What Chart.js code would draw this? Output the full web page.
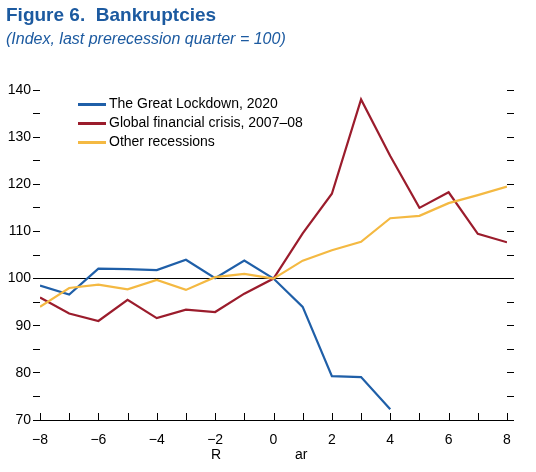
<!DOCTYPE html>
<html>
<head>
<meta charset="utf-8">
<script src="https://cdn.jsdelivr.net/npm/chart.js@4"></script>
<style>
  body { margin: 0; background: #fff; font-family: "Liberation Sans Narrow", "Liberation Sans", Arial, sans-serif; }
  #wrap { position: relative; width: 536px; height: 472px; }
  #title { position: absolute; left: 6px; top: 4px; font-size: 19px; font-weight: bold; color: #1c5aa0; }
  #sub { position: absolute; left: 6px; top: 30px; font-size: 16px; font-style: italic; color: #1c5aa0; }
  .leg { position: absolute; left: 78px; font-size: 14px; color: #000; }
  .leg i { display: inline-block; width: 28px; height: 3px; vertical-align: middle; margin-right: 3px; }
  .xl { position: absolute; top: 446px; font-size: 14px; }
  canvas { position: absolute; left: 0; top: 0; }
</style>
</head>
<body>
<div id="wrap">
  <canvas id="chart" width="536" height="472"></canvas>
  <div id="title">Figure 6.&nbsp; Bankruptcies</div>
  <div id="sub">(Index, last prerecession quarter = 100)</div>
  <div class="leg" style="top:95px"><i style="background:#1f5fa8"></i>The Great Lockdown, 2020</div>
  <div class="leg" style="top:114px"><i style="background:#9b1c2c"></i>Global financial crisis, 2007–08</div>
  <div class="leg" style="top:133px"><i style="background:#f4b942"></i>Other recessions</div>
  <div class="xl" style="left:211px">R</div>
  <div class="xl" style="left:295px">ar</div>
</div>
<script>
const quarters = [-8,-7,-6,-5,-4,-3,-2,-1,0,1,2,3,4,5,6,7,8];
const lockdown = [98.5,96.6,102.1,102,101.8,104,100.1,103.8,100,94,79.3,79.1,72.3];
const gfc = [96,92.6,91,95.5,91.6,93.4,92.9,96.8,100,109.6,118,138,126,115,118.3,109.5,107.7];
const other = [94,98,98.7,97.7,99.7,97.6,100.3,101,100,103.8,106,107.8,112.8,113.3,116,117.7,119.5];

const font = { family: '"Liberation Sans Narrow", "Liberation Sans", Arial, sans-serif', size: 14 };

function pts(arr) { return arr.map((v, i) => ({ x: quarters[i], y: v })); }

// inward x ticks drawn from the x scale
const xTicks = {
  id: 'xTicks',
  afterDraw(chart) {
    const ctx = chart.ctx, xs = chart.scales.x, b = chart.chartArea.bottom;
    ctx.save();
    ctx.strokeStyle = '#000';
    ctx.lineWidth = 1;
    ctx.beginPath();
    ctx.moveTo(chart.chartArea.left, b + 0.5);
    ctx.lineTo(chart.chartArea.right, b + 0.5);
    for (const q of quarters) {
      const px = Math.round(xs.getPixelForValue(q)) + 0.5;
      ctx.moveTo(px, b);
      ctx.lineTo(px, b - 7);
    }
    ctx.stroke();
    ctx.restore();
  }
};

new Chart(document.getElementById('chart'), {
  type: 'line',
  data: {
    datasets: [
      { label: 'Other recessions', data: pts(other), borderColor: '#f4b942', borderWidth: 2.2 },
      { label: 'Global financial crisis, 2007–08', data: pts(gfc), borderColor: '#9b1c2c', borderWidth: 2.2 },
      { label: 'The Great Lockdown, 2020', data: pts(lockdown), borderColor: '#1f5fa8', borderWidth: 2.2 }
    ]
  },
  options: {
    responsive: false,
    animation: false,
    layout: { padding: { top: 90 } },
    elements: { point: { radius: 0 }, line: { tension: 0 } },
    plugins: { legend: { display: false }, tooltip: { enabled: false } },
    scales: {
      x: {
        type: 'linear', min: -8, max: 8,
        afterFit(s) { s.height = 52; },
        border: { display: false },
        grid: { display: false },
        ticks: { stepSize: 2, color: '#000', font: font, padding: 4,
          callback: v => v < 0 ? '\u2212' + (-v) : String(v) }
      },
      y: {
        min: 70, max: 140,
        afterFit(s) { s.width = 40; },
        border: { display: false },
        grid: {
          color: c => c.tick.value === 100 ? '#000' : 'rgba(0,0,0,0)',
          tickColor: '#000', tickLength: 7, drawTicks: true
        },
        ticks: { stepSize: 5, color: '#000', font: font, padding: 2,
          callback: v => v % 10 === 0 ? v : '' }
      },
      y2: {
        position: 'right', min: 70, max: 140,
        afterFit(s) { s.width = 29; },
        border: { display: false },
        grid: { drawOnChartArea: false, tickColor: '#000', tickLength: 7 },
        ticks: { stepSize: 5, callback: () => '' }
      }
    }
  },
  plugins: [xTicks]
});
</script>
</body>
</html>
